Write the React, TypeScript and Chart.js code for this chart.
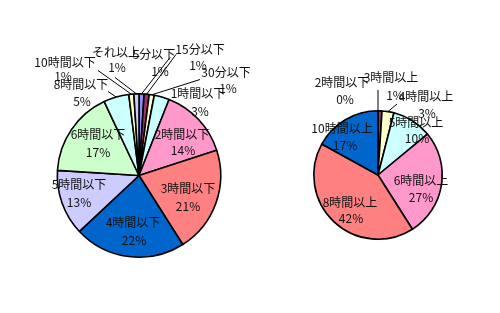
import React, { useEffect, useRef } from "react";
import { Chart, registerables } from "chart.js";

Chart.register(...registerables);

// Left pie: time spent (以下)
const leftCategories = ["5分以下", "15分以下", "30分以下", "1時間以下", "2時間以下", "3時間以下", "4時間以下", "5時間以下", "6時間以下", "8時間以下", "10時間以下", "それ以上"];
const leftValues = [1, 1, 1, 3, 14, 21, 22, 13, 17, 5, 1, 1];
const leftColors = ["#8c8cf5", "#993366", "#FFFFCC", "#CCFFFF", "#FF99CC", "#FF8080", "#0066CC", "#CCCCFF", "#CCFFCC", "#CCFFFF", "#FFFFCC", "#CCCCFF"];

// Right pie: time spent (以上)
const rightCategories = ["2時間以下", "3時間以上", "4時間以上", "5時間以上", "6時間以上", "8時間以上", "10時間以上"];
const rightValues = [0, 1, 3, 10, 27, 42, 17];
const rightColors = ["#9999FF", "#993366", "#FFFFCC", "#CCFFFF", "#FF99CC", "#FF8080", "#0066CC"];

// label layout (offsets from pie centre, px): name line and value line
const leftNameOff = [[15, -121], [61, -126], [87, -103], [59, -82], [43, -41], [49, 13], [-6, 47], [-60, 9], [-41, -41], [-58, -91], [-74, -113], [-23, -123]];
const leftValOff = [[21, -104], [59, -110], [89, -87], [61, -64], [44, -25], [49, 31], [-5, 65], [-60, 27], [-41, -23], [-57, -74], [-76, -99], [-22, -108]];
const leftLeaders: (number[] | null)[] = [[31, -118], [37, -121], [61, -96], null, null, null, null, null, null, [-31, -84], [-41, -105], [-24, -98]];

const rightNameOff = [[-36, -93], [13, -98], [48, -79], [38, -53], [43, 5], [-28, 27], [-36, -47]];
const rightValOff = [[-33, -76], [17, -80], [49, -62], [39, -37], [43, 22], [-27, 43], [-33, -30]];
const rightLeaders: (number[] | null)[] = [[0, -85], null, [19, -71], null, null, null, null];

const FONT = '12px "Noto Sans CJK JP", "Noto Sans", sans-serif';

function makeLabelPlugin(nameOff: number[][], valOff: number[][], leaders: (number[] | null)[]) {
  return {
    id: "pieLabels",
    afterDraw(chart: any) {
      const ctx = chart.ctx;
      const meta = chart.getDatasetMeta(0);
      const data = chart.data.datasets[0].data as number[];
      const labels = chart.data.labels as string[];
      ctx.save();
      meta.data.forEach((arc: any, i: number) => {
        const { x, y, outerRadius, startAngle, endAngle } = arc.getProps(["x", "y", "outerRadius", "startAngle", "endAngle"], true);
        const lead = leaders[i];
        if (lead) {
          const mid = (startAngle + endAngle) / 2;
          ctx.beginPath();
          ctx.strokeStyle = "#000";
          ctx.lineWidth = 1;
          ctx.moveTo(x + lead[0], y + lead[1]);
          ctx.lineTo(x + Math.cos(mid) * outerRadius, y + Math.sin(mid) * outerRadius);
          ctx.stroke();
        }
        ctx.fillStyle = "#111";
        ctx.font = FONT;
        ctx.textAlign = "center";
        ctx.textBaseline = "middle";
        ctx.fillText(labels[i], x + nameOff[i][0], y + nameOff[i][1]);
        ctx.fillText(Math.round(data[i]) + "%", x + valOff[i][0], y + valOff[i][1]);
      });
      ctx.restore();
    },
  };
}

function PieCanvas(props: { labels: string[]; values: number[]; colors: string[]; padding: any; plugin: any; left: number }) {
  const ref = useRef<HTMLCanvasElement | null>(null);
  useEffect(() => {
    if (!ref.current) return;
    const chart = new Chart(ref.current, {
      type: "pie",
      data: {
        labels: props.labels,
        datasets: [
          {
            data: props.values,
            backgroundColor: props.colors,
            borderColor: "#000",
            borderWidth: 1.6,
          },
        ],
      },
      options: {
        responsive: false,
        animation: false,
        devicePixelRatio: 1,
        layout: { padding: props.padding },
        plugins: { legend: { display: false }, tooltip: { enabled: false } },
      },
      plugins: [props.plugin],
    });
    return () => chart.destroy();
  }, []);
  return <canvas ref={ref} width={250} height={313} style={{ position: "absolute", left: props.left, top: 0 }} />;
}

export default function App() {
  return (
    <div style={{ position: "fixed", left: 0, top: 0, width: 500, height: 313, background: "#fff" }}>
      <PieCanvas
        labels={leftCategories}
        values={leftValues}
        colors={leftColors}
        padding={{ left: 56, right: 28, top: 93, bottom: 55 }}
        plugin={makeLabelPlugin(leftNameOff, leftValOff, leftLeaders)}
        left={0}
      />
      <PieCanvas
        labels={rightCategories}
        values={rightValues}
        colors={rightColors}
        padding={{ left: 63, right: 57, top: 110, bottom: 73 }}
        plugin={makeLabelPlugin(rightNameOff, rightValOff, rightLeaders)}
        left={250}
      />
    </div>
  );
}
